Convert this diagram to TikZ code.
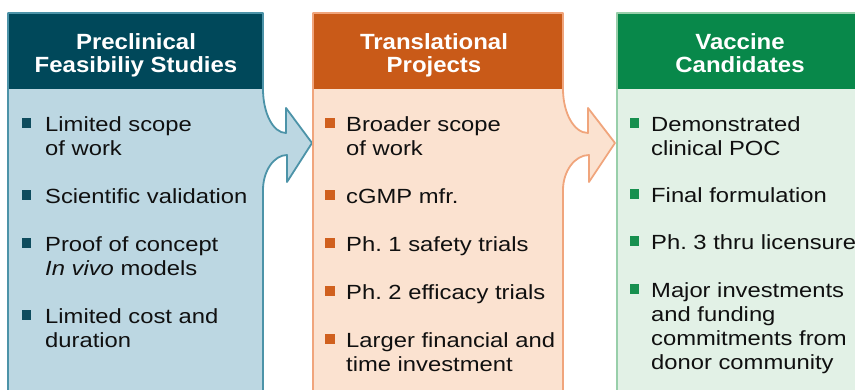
\documentclass[tikz,border=0pt]{standalone}
\usepackage{fontspec}
\usepackage{tikz}
\usetikzlibrary{calc, positioning}
\newfontfamily\HeadFont[FakeStretch=1.09]{Liberation Sans}
\newfontfamily\BodyFont[FakeStretch=1.16]{Liberation Sans}
\frenchspacing
\definecolor{TealHead}{HTML}{00485A}
\definecolor{TealBody}{HTML}{BCD7E2}
\definecolor{TealEdge}{HTML}{4C93A8}
\definecolor{TealDot}{HTML}{0E4C5E}
\definecolor{OrangeHead}{HTML}{C95A18}
\definecolor{OrangeBody}{HTML}{FBE2D0}
\definecolor{OrangeEdge}{HTML}{F0A57C}
\definecolor{OrangeDot}{HTML}{D0601E}
\definecolor{GreenHead}{HTML}{08884A}
\definecolor{GreenBody}{HTML}{E2F1E6}
\definecolor{GreenEdge}{HTML}{98CFAA}
\definecolor{GreenDot}{HTML}{17904F}
\definecolor{Ink}{HTML}{101010}
\newcommand{\headlines}[1]{\parbox[t]{240pt}{\centering #1}}
\newcommand{\itemlines}[1]{\parbox[t]{230pt}{\raggedright #1}}
\tikzset{%
  panel_path/.style={%
    line width=1.8pt,%
    line join=round,%
  },
  head_text/.style={%
    font={\HeadFont\bfseries\fontsize{22}{23}\selectfont},%
    text=white,%
    anchor=base,%
    inner sep=0pt,%
  },
  item_text/.style={%
    font={\BodyFont\fontsize{20.5}{23.8}\selectfont},%
    text=Ink,%
    anchor=base west,%
    inner sep=0pt,%
  },
  bullet/.style={%
    rectangle,%
    minimum size=9.5pt,%
    inner sep=0pt,%
  },
}
\begin{document}
\begin{tikzpicture}[x=1pt, y=1pt]
    \path [use as bounding box, clip] (0,0) rectangle (855,390);

    % panels
    \filldraw [panel_path, fill=TealBody, draw=TealEdge]
      (8,-10) -- (8,377) -- (263,377) -- (263,301)
      .. controls (263,277) and (273,257) .. (286,257)
      -- (286,282) -- (312,247) -- (287,208) -- (287,235)
      .. controls (274,235) and (263,219) .. (263,200)
      -- (263,-10) -- cycle;
    \fill [TealHead] (8.9,301) rectangle (262.1,376.1);

    \filldraw [panel_path, fill=OrangeBody, draw=OrangeEdge]
      (313,-10) -- (313,377) -- (563,377) -- (563,301)
      .. controls (563,277) and (574,257) .. (588,257)
      -- (588,282) -- (615,247) -- (589,208) -- (589,235)
      .. controls (575,235) and (563,219) .. (563,200)
      -- (563,-10) -- cycle;
    \fill [OrangeHead] (313.9,301) rectangle (562.1,376.1);

    \filldraw [panel_path, fill=GreenBody, draw=GreenEdge]
      (617,-10) rectangle (870,377);
    \fill [GreenHead] (617.9,301) rectangle (869.1,376.1);

    % headers
    \node [head_text] (PreHead) at (136,340)
      {\headlines{Preclinical\\Feasibiliy Studies}};
    \node [head_text] (TransHead) at (434,340)
      {\headlines{Translational\\Projects}};
    \node [head_text] (VacHead) at (740,340)
      {\headlines{Vaccine\\Candidates}};

    % preclinical items
    \node [item_text] (PreScope) at (45,258) {\itemlines{Limited scope\\of work}};
    \node [item_text] (PreValid) at (45,186) {\itemlines{Scientific validation}};
    \node [item_text] (PreProof) at (45,138) {\itemlines{Proof of concept\\{\itshape In vivo} models}};
    \node [item_text] (PreCost) at (45,66) {\itemlines{Limited cost and\\duration}};
    \node [bullet, fill=TealDot] (PreScopeDot) at ($(PreScope.base west)+(-18.5,9)$) {};
    \node [bullet, fill=TealDot] (PreValidDot) at ($(PreValid.base west)+(-18.5,9)$) {};
    \node [bullet, fill=TealDot] (PreProofDot) at ($(PreProof.base west)+(-18.5,9)$) {};
    \node [bullet, fill=TealDot] (PreCostDot) at ($(PreCost.base west)+(-18.5,9)$) {};

    % translational items
    \node [item_text] (TransScope) at (346,258) {\itemlines{Broader scope\\of work}};
    \node [item_text] (TransMfr) at (346,186) {\itemlines{cGMP mfr.}};
    \node [item_text] (TransSafety) at (346,138) {\itemlines{Ph. 1 safety trials}};
    \node [item_text] (TransEfficacy) at (346,90) {\itemlines{Ph. 2 efficacy trials}};
    \node [item_text] (TransInvest) at (346,42) {\itemlines{Larger financial and\\time investment}};
    \node [bullet, fill=OrangeDot] (TransScopeDot) at ($(TransScope.base west)+(-16,9)$) {};
    \node [bullet, fill=OrangeDot] (TransMfrDot) at ($(TransMfr.base west)+(-16,9)$) {};
    \node [bullet, fill=OrangeDot] (TransSafetyDot) at ($(TransSafety.base west)+(-16,9)$) {};
    \node [bullet, fill=OrangeDot] (TransEfficacyDot) at ($(TransEfficacy.base west)+(-16,9)$) {};
    \node [bullet, fill=OrangeDot] (TransInvestDot) at ($(TransInvest.base west)+(-16,9)$) {};

    % vaccine items
    \node [item_text] (VacPoc) at (651,258) {\itemlines{Demonstrated\\clinical POC}};
    \node [item_text] (VacForm) at (651,187) {\itemlines{Final formulation}};
    \node [item_text] (VacLicense) at (651,140) {\itemlines{Ph. 3 thru licensure}};
    \node [item_text] (VacFunding) at (651,92) {\itemlines{Major investments\\and funding\\commitments from\\donor community}};
    \node [bullet, fill=GreenDot] (VacPocDot) at ($(VacPoc.base west)+(-16.5,9)$) {};
    \node [bullet, fill=GreenDot] (VacFormDot) at ($(VacForm.base west)+(-16.5,9)$) {};
    \node [bullet, fill=GreenDot] (VacLicenseDot) at ($(VacLicense.base west)+(-16.5,9)$) {};
    \node [bullet, fill=GreenDot] (VacFundingDot) at ($(VacFunding.base west)+(-16.5,9)$) {};
  \end{tikzpicture}
\end{document}
